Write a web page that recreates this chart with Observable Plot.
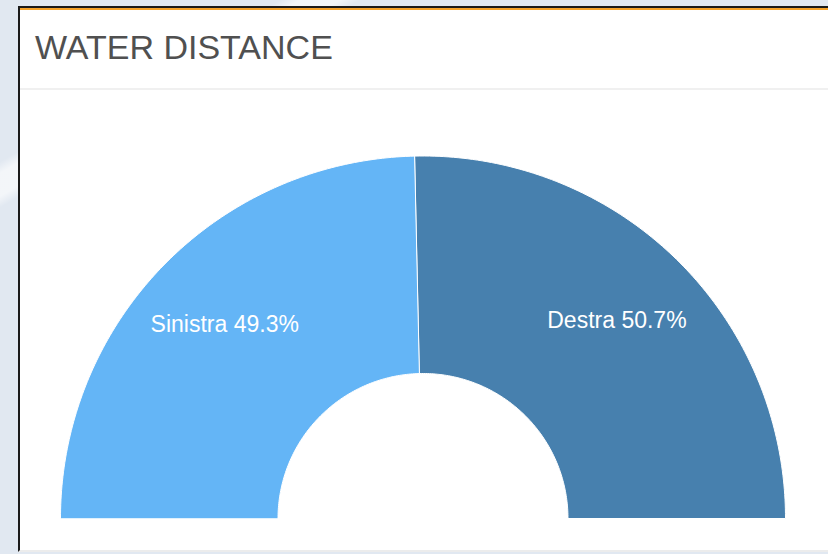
<!DOCTYPE html>
<html>
<head>
<meta charset="utf-8">
<script src="https://cdn.jsdelivr.net/npm/d3@7"></script>
<script src="https://cdn.jsdelivr.net/npm/@observablehq/plot@0.6"></script>
<style>
  html, body { margin: 0; padding: 0; }
  body {
    width: 828px; height: 554px; overflow: hidden; position: relative;
    background:
      linear-gradient(150deg, rgba(255,255,255,0) 0px, rgba(255,255,255,0) 140px, rgba(255,255,255,0.6) 150px, rgba(255,255,255,0.6) 170px, rgba(255,255,255,0) 180px),
      #e1e8f1;
    font-family: "Liberation Sans", Arial, sans-serif;
  }
  #card {
    position: absolute; left: 18px; top: 6px; width: 810px; height: 546px;
    background: #fff;
    border-left: 2px solid #1a1a1a;
    border-top: 2px solid #1a1a1a;
    border-bottom: 2px solid #ececec;
    box-sizing: border-box;
  }
  #card::before {
    content: ""; position: absolute; left: 0; right: 0; top: 0; height: 2px;
    background: #f5a22a;
  }
  #title {
    position: absolute; left: 15px; top: 20px;
    font-size: 34px; color: #505050;
    font-family: "Liberation Sans", Arial, sans-serif;
  }
  #sep {
    position: absolute; left: 0; right: 0; top: 80px; height: 2px; background: #f0f0f0;
  }
  #chart { position: absolute; left: 0; top: 90px; }
</style>
</head>
<body>
<div id="card">
  <div id="title">WATER DISTANCE</div>
  <div id="sep"></div>
</div>
<div id="chart"></div>
<script>
const names = ["Sinistra", "Destra"];
const values = [49.3, 50.7];
const colors = ["#64b5f6", "#4780ae"];

const innerFrac = 0.4;
const labelFrac = 0.765;
const total = d3.sum(values);

// Build slice polygons (unit circle, upper half) from the data
let acc = 0;
const slices = names.map((name, i) => {
  const f0 = acc / total;
  acc += values[i];
  const f1 = acc / total;
  const a0 = Math.PI - f0 * Math.PI;
  const a1 = Math.PI - f1 * Math.PI;
  const n = 120;
  const pts = [];
  for (let k = 0; k <= n; k++) {
    const a = a0 + (a1 - a0) * k / n;
    pts.push({x: Math.cos(a), y: Math.sin(a)});
  }
  for (let k = n; k >= 0; k--) {
    const a = a0 + (a1 - a0) * k / n;
    pts.push({x: innerFrac * Math.cos(a), y: innerFrac * Math.sin(a)});
  }
  const am = (a0 + a1) / 2;
  return {
    name, value: values[i], color: colors[i], pts,
    lx: labelFrac * Math.cos(am), ly: labelFrac * Math.sin(am)
  };
});

const W = 828, H = 464;
const R = 362.5;
const cx = 422.5, cy = 428;

const chart = Plot.plot({
  width: W,
  height: H,
  marginLeft: cx - R,
  marginRight: W - (cx + R),
  marginTop: cy - R,
  marginBottom: H - cy,
  x: {domain: [-1, 1], axis: null},
  y: {domain: [0, 1], axis: null},
  style: {background: "transparent", overflow: "visible"},
  marks: [
    ...slices.map(s => Plot.line(s.pts, {
      x: "x", y: "y", fill: s.color, stroke: "#ffffff", strokeWidth: 1,
      curve: "linear-closed"
    })),
    Plot.text(slices, {
      x: "lx", y: "ly",
      text: d => `${d.name} ${d.value.toFixed(1)}%`,
      fill: "#ffffff",
      fontSize: 23,
      fontFamily: "Liberation Sans, Arial, sans-serif",
      textAnchor: "middle",
      lineAnchor: "middle"
    })
  ]
});
document.getElementById("chart").appendChild(chart);
</script>
</body>
</html>
